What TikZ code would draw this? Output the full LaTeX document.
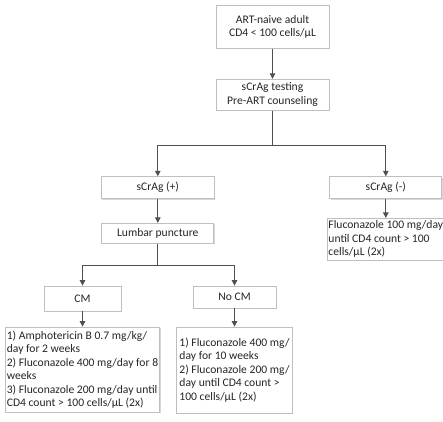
\documentclass[tikz,border=0pt]{standalone}
\usepackage{fontspec}
\setmainfont{Carlito}
\usetikzlibrary{arrows.meta,shadows}
\definecolor{boxline}{HTML}{BFBFBF}
\definecolor{arrowline}{HTML}{505050}
\definecolor{txt}{HTML}{262626}
\begin{document}
\begin{tikzpicture}[x=1bp, y=-1bp,
    box/.style={draw=boxline, line width=0.8bp, fill=white, text=txt, inner sep=1.5bp,
        align=center, font=\fontsize{11.6bp}{13.5bp}\selectfont,
        drop shadow={shadow xshift=0.9bp, shadow yshift=-0.9bp, opacity=0.25, fill=black!60}},
    txbox/.style={box, align=left},
    arr/.style={draw=arrowline, line width=1bp, -{Triangle[width=5.5bp,length=5.5bp]}},
    link/.style={draw=arrowline, line width=1bp}]
    \fill[white] (0,0) rectangle (443,421);
    \useasboundingbox (0,0) rectangle (443,421);
    \node[box, minimum width=113bp, minimum height=43bp] (adult) at (272.5,26.8) {ART-naive adult\\CD4 < 100 cells/µL};
    \node[box, minimum width=113bp, minimum height=31bp] (test) at (272.5,94.7) {sCrAg testing\\Pre-ART counseling};
    \coordinate (split1) at (272.5,145);
    \node[box, minimum width=113bp, minimum height=22bp] (pos) at (157.8,187.7) {sCrAg (+)};
    \node[box, minimum width=112bp, minimum height=22bp] (neg) at (385.8,187.7) {sCrAg (-)};
    \node[box, minimum width=112bp, minimum height=20bp] (lumbar) at (157.8,233.3) {Lumbar puncture};
    \node[txbox, minimum width=112bp, minimum height=41.7bp] (negtx) at (385.8,239.2) {Fluconazole 100 mg/day\\until CD4 count > 100\\cells/µL (2x)};
    \coordinate (split2) at (157.8,265);
    \node[box, minimum width=77bp, minimum height=25bp] (cm) at (82.5,298.5) {CM};
    \node[box, minimum width=83bp, minimum height=22bp] (nocm) at (234.5,297) {No CM};
    \node[txbox, minimum width=150bp, minimum height=85bp] (cmtx) at (82.5,369.5) {1) Amphotericin B 0.7 mg/kg/\\day for 2 weeks\\2) Fluconazole 400 mg/day for 8\\weeks\\3) Fluconazole 200 mg/day until\\CD4 count > 100 cells/µL (2x)};
    \node[txbox, minimum width=116bp, minimum height=86bp] (nocmtx) at (234.5,370) {1) Fluconazole 400 mg/\\day for 10 weeks\\2) Fluconazole 200 mg/\\day until CD4 count >\\100 cells/µL (2x)};
    \draw[arr] (adult) -- (test);
    \draw[link] (test) -- (split1);
    \draw[arr] (split1) -| (pos);
    \draw[arr] (split1) -| (neg);
    \draw[arr] (pos) -- (lumbar);
    \draw[arr] (neg) -- (negtx);
    \draw[link] (lumbar) -- (split2);
    \draw[arr] (split2) -| (cm);
    \draw[arr] (split2) -| (nocm);
    \draw[arr] (cm) -- (cmtx);
    \draw[arr] (nocm) -- (nocmtx);
\end{tikzpicture}
\end{document}
